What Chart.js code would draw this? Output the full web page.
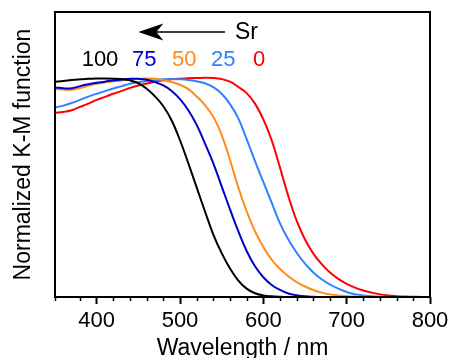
<!DOCTYPE html>
<html>
<head>
<meta charset="utf-8">
<script src="https://cdn.jsdelivr.net/npm/chart.js@4.4.0/dist/chart.umd.min.js"></script>
<style>
  html, body { margin: 0; padding: 0; background: #fff; }
  #wrap { width: 455px; height: 358px; position: relative; }
</style>
</head>
<body>
<div id="wrap"><canvas id="kmChart"></canvas></div>
<script>
// Sr content labels and their line colours
const srLabels = ['100', '75', '50', '25', '0'];
const lineColors = ['#000000', '#0000cc', '#ff8c1a', '#3380ff', '#ff0000'];

// wavelength grid (nm), read every 10 nm
const wavelengths = [350, 360, 370, 380, 390, 400, 410, 420, 430, 440, 450, 460, 470, 480, 490,
    500, 510, 520, 530, 540, 550, 560, 570, 580, 590, 600, 610, 620, 630, 640, 650, 660, 670, 680, 690,
    700, 710, 720, 730, 740, 750, 760, 770, 780, 790, 800];

// normalized K-M values
const km100 = [0.982, 0.985, 0.99, 0.993, 0.995, 0.997, 0.997, 0.996, 0.994, 0.988, 0.975, 0.95, 0.915, 0.87, 0.805,
    0.715, 0.61, 0.5, 0.39, 0.285, 0.2, 0.13, 0.075, 0.038, 0.017, 0.007, 0.003, 0.001, 0, 0, 0, 0, 0, 0, 0,
    0, 0, 0, 0, 0, 0, 0, 0, 0, 0, 0];
const km75 = [0.956, 0.952, 0.952, 0.962, 0.97, 0.977, 0.982, 0.988, 0.992, 0.995, 0.995, 0.991, 0.98, 0.965, 0.94,
    0.903, 0.852, 0.785, 0.7, 0.61, 0.505, 0.4, 0.3, 0.21, 0.14, 0.09, 0.055, 0.032, 0.016, 0.008, 0.003, 0.001, 0, 0, 0,
    0, 0, 0, 0, 0, 0, 0, 0, 0, 0, 0];
const km50 = [0.949, 0.946, 0.945, 0.953, 0.963, 0.973, 0.979, 0.984, 0.988, 0.992, 0.995, 0.997, 0.996, 0.99, 0.98,
    0.968, 0.948, 0.915, 0.875, 0.822, 0.74, 0.625, 0.5, 0.39, 0.3, 0.228, 0.17, 0.128, 0.095, 0.068, 0.048, 0.032, 0.02, 0.012, 0.007,
    0.004, 0.002, 0.001, 0, 0, 0, 0, 0, 0, 0, 0];
const km25 = [0.864, 0.873, 0.885, 0.899, 0.914, 0.927, 0.939, 0.951, 0.962, 0.973, 0.98, 0.985, 0.989, 0.993, 0.994,
    0.993, 0.99, 0.984, 0.975, 0.957, 0.927, 0.88, 0.815, 0.72, 0.62, 0.525, 0.43, 0.336, 0.262, 0.202, 0.152, 0.112, 0.081, 0.057, 0.038,
    0.023, 0.013, 0.007, 0.003, 0.001, 0, 0, 0, 0, 0, 0];
const km0 = [0.84, 0.844, 0.852, 0.867, 0.882, 0.899, 0.913, 0.927, 0.94, 0.954, 0.965, 0.974, 0.982, 0.988, 0.993,
    0.996, 0.998, 0.999, 1.0, 0.999, 0.994, 0.982, 0.958, 0.93, 0.882, 0.81, 0.715, 0.59, 0.46, 0.348, 0.262, 0.198, 0.15, 0.112, 0.083,
    0.06, 0.043, 0.03, 0.02, 0.012, 0.007, 0.004, 0.002, 0.001, 0, 0];

const seriesKm = [km100, km75, km50, km25, km0];

// annotation placement, in data units
const labelWl = [404, 457, 505, 552, 595];
const labelLevel = 1.055;
const arrowFrom = 450, arrowTo = 554, arrowLevel = 1.209;
const srWl = 566, srLevel = 1.177;

Chart.defaults.font.family = "'Liberation Sans', Arial, sans-serif";
Chart.defaults.color = '#000';

const boxPlugin = {
    id: 'frameAndNotes',
    afterDraw(chart) {
        const { ctx, chartArea: a, scales: { x, y } } = chart;
        ctx.save();

        // minor ticks (shorter than the built-in major ones)
        ctx.strokeStyle = '#000';
        ctx.lineWidth = 1.5;
        x.ticks.forEach(t => {
            if (t.value % 100 !== 0) {
                const px = Math.round(x.getPixelForValue(t.value)) + 0.5;
                ctx.beginPath();
                ctx.moveTo(px, a.bottom);
                ctx.lineTo(px, a.bottom + 4);
                ctx.stroke();
            }
        });

        // plot frame
        ctx.lineWidth = 2;
        ctx.strokeRect(a.left, a.top, a.right - a.left, a.bottom - a.top);

        // arrow + Sr
        const ya = y.getPixelForValue(arrowLevel);
        const xt = x.getPixelForValue(arrowFrom);
        const xe = x.getPixelForValue(arrowTo);
        ctx.lineWidth = 1.5;
        ctx.beginPath();
        ctx.moveTo(xt + 15, ya);
        ctx.lineTo(xe, ya);
        ctx.stroke();
        ctx.fillStyle = '#000';
        ctx.beginPath();
        ctx.moveTo(xt, ya);
        ctx.lineTo(xt + 25, ya - 8.5);
        ctx.lineTo(xt + 18, ya);
        ctx.lineTo(xt + 25, ya + 8.5);
        ctx.closePath();
        ctx.fill();

        ctx.font = "23px 'Liberation Sans', Arial, sans-serif";
        ctx.textBaseline = 'alphabetic';
        ctx.textAlign = 'left';
        ctx.fillText('Sr', x.getPixelForValue(srWl), y.getPixelForValue(srLevel));

        ctx.font = "22px 'Liberation Sans', Arial, sans-serif";
        ctx.textAlign = 'center';
        srLabels.forEach((lab, i) => {
            ctx.fillStyle = lineColors[i];
            ctx.fillText(lab, x.getPixelForValue(labelWl[i]), y.getPixelForValue(labelLevel));
        });
        ctx.restore();
    }
};

const datasets = srLabels.map((lab, i) => ({
    label: lab,
    data: wavelengths.map((w, j) => ({ x: w, y: seriesKm[i][j] })),
    borderColor: lineColors[i],
    borderWidth: 2,
    pointRadius: 0,
    fill: false,
    tension: 0.4
}));

new Chart(document.getElementById('kmChart'), {
    type: 'line',
    data: { datasets: datasets },
    options: {
        responsive: true,
        maintainAspectRatio: false,
        animation: false,
        devicePixelRatio: 1,
        layout: { padding: { left: 0, right: 25, top: 12, bottom: 0 } },
        plugins: {
            legend: { display: false },
            tooltip: { enabled: false }
        },
        scales: {
            x: {
                type: 'linear',
                min: 350,
                max: 800,
                afterFit: scale => { scale.height = 61; },
                border: { display: false },
                grid: {
                    drawOnChartArea: false,
                    drawTicks: true,
                    tickLength: 7,
                    tickWidth: 2,
                    tickColor: ctx => (ctx.tick && ctx.tick.value % 100 === 0) ? '#000' : 'rgba(0,0,0,0)'
                },
                ticks: {
                    stepSize: 20,
                    autoSkip: false,
                    maxRotation: 0,
                    padding: 4,
                    font: { size: 22 },
                    callback: v => (v % 100 === 0 ? String(v) : '')
                },
                title: {
                    display: true,
                    text: 'Wavelength / nm',
                    font: { size: 23, lineHeight: 1 },
                    padding: { top: 0, bottom: -2 }
                }
            },
            y: {
                min: 0,
                max: 1.3,
                afterFit: scale => { scale.width = 55; },
                border: { display: false },
                grid: { display: false },
                ticks: { display: false },
                title: {
                    display: true,
                    text: 'Normalized K-M function',
                    font: { size: 23, lineHeight: 1 },
                    padding: { top: 12.5, bottom: 0 }
                }
            }
        }
    },
    plugins: [boxPlugin]
});
</script>
</body>
</html>
